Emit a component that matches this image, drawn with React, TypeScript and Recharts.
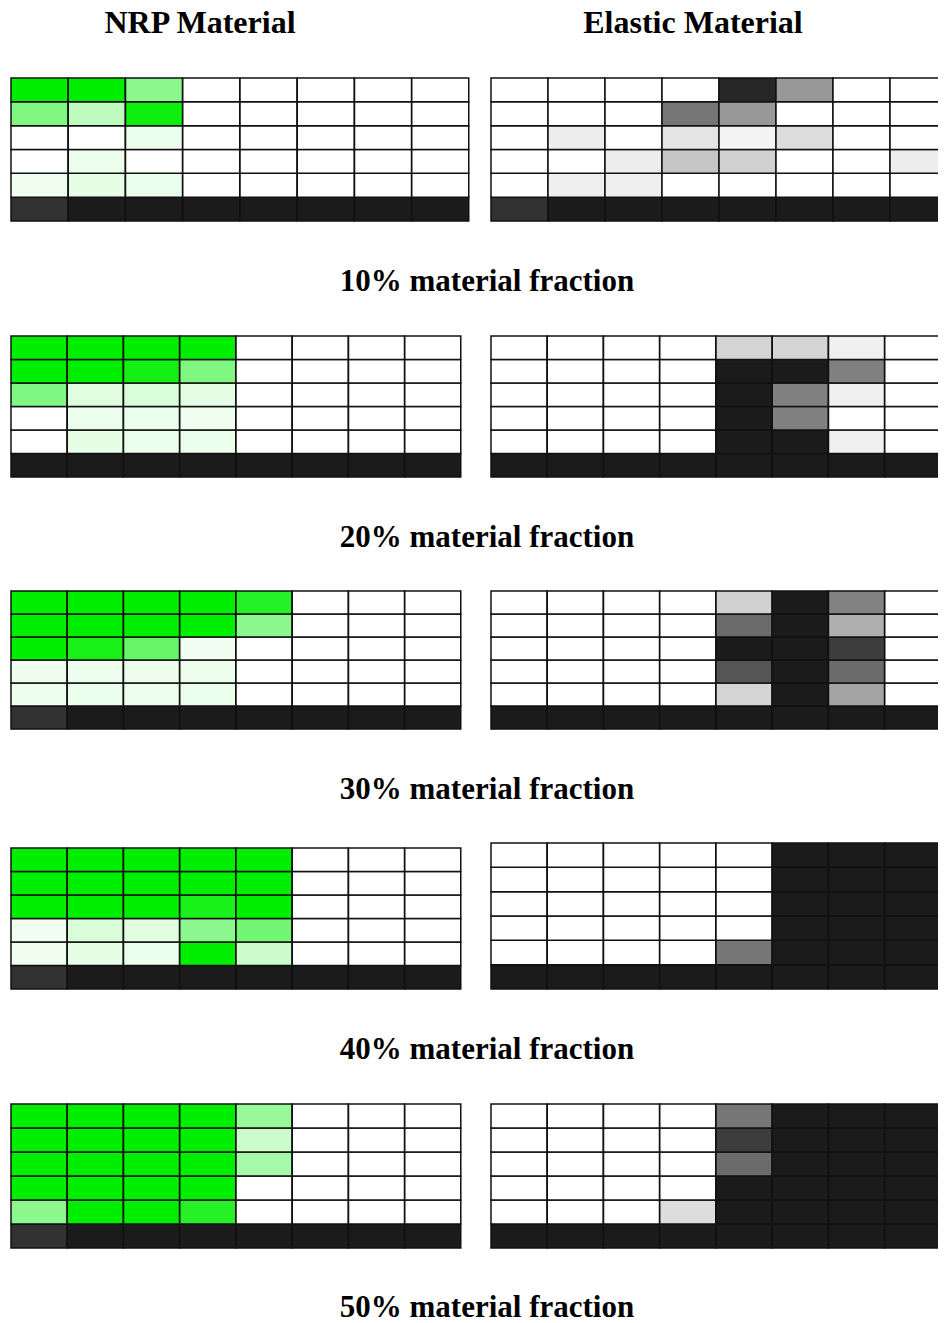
import React from "react";
import { BarChart, Bar, XAxis, YAxis, Cell } from "recharts";

// Column categories (8 elements across each design domain)
const COLUMNS = ["c1", "c2", "c3", "c4", "c5", "c6", "c7", "c8"];
// Row keys, top (r0) to bottom support row (r5)
const ROWS = ["r0", "r1", "r2", "r3", "r4", "r5"];

const COLUMN_TITLES = ["NRP Material", "Elastic Material"];
const FRACTION_LABELS = [
  "10% material fraction",
  "20% material fraction",
  "30% material fraction",
  "40% material fraction",
  "50% material fraction",
];

// Element densities (0 = void, 1 = full material), rows listed top to bottom.
const NRP_10 = [
  [1, 1, 0.45, 0, 0, 0, 0, 0],
  [0.5, 0.25, 0.95, 0, 0, 0, 0, 0],
  [0, 0, 0.08, 0, 0, 0, 0, 0],
  [0, 0.08, 0, 0, 0, 0, 0, 0],
  [0.06, 0.1, 0.08, 0, 0, 0, 0, 0],
  [0.9, 1, 1, 1, 1, 1, 1, 1],
];
const ELASTIC_10 = [
  [0, 0, 0, 0, 0.95, 0.45, 0, 0],
  [0, 0, 0, 0.6, 0.45, 0, 0, 0],
  [0, 0.08, 0, 0.12, 0.05, 0.15, 0, 0],
  [0, 0, 0.08, 0.25, 0.2, 0, 0, 0.08],
  [0, 0.07, 0.07, 0, 0, 0, 0, 0],
  [0.9, 1, 1, 1, 1, 1, 1, 1],
];
const NRP_20 = [
  [1, 1, 1, 1, 0, 0, 0, 0],
  [1, 1, 0.92, 0.5, 0, 0, 0, 0],
  [0.5, 0.12, 0.15, 0.1, 0, 0, 0, 0],
  [0, 0.08, 0.08, 0.06, 0, 0, 0, 0],
  [0, 0.1, 0.08, 0.08, 0, 0, 0, 0],
  [1, 1, 1, 1, 1, 1, 1, 1],
];
const ELASTIC_20 = [
  [0, 0, 0, 0, 0.19, 0.19, 0.066, 0],
  [0, 0, 0, 0, 1, 1, 0.557, 0],
  [0, 0, 0, 0, 1, 0.557, 0.066, 0],
  [0, 0, 0, 0, 1, 0.557, 0, 0],
  [0, 0, 0, 0, 1, 1, 0.066, 0],
  [1, 1, 1, 1, 1, 1, 1, 1],
];
const NRP_30 = [
  [1, 1, 1, 1, 0.85, 0, 0, 0],
  [1, 1, 1, 1, 0.45, 0, 0, 0],
  [1, 0.9, 0.6, 0.05, 0, 0, 0, 0],
  [0.07, 0.07, 0.07, 0.07, 0, 0, 0, 0],
  [0.07, 0.08, 0.07, 0.08, 0, 0, 0, 0],
  [0.9, 1, 1, 1, 1, 1, 1, 1],
];
const ELASTIC_30 = [
  [0, 0, 0, 0, 0.2, 1, 0.55, 0],
  [0, 0, 0, 0, 0.65, 1, 0.35, 0],
  [0, 0, 0, 0, 1, 1, 0.85, 0],
  [0, 0, 0, 0, 0.745, 1, 0.65, 0],
  [0, 0, 0, 0, 0.19, 1, 0.4, 0],
  [1, 1, 1, 1, 1, 1, 1, 1],
];
const NRP_40 = [
  [1, 1, 1, 1, 1, 0, 0, 0],
  [1, 1, 1, 1, 1, 0, 0, 0],
  [1, 1, 1, 0.9, 1, 0, 0, 0],
  [0.06, 0.15, 0.12, 0.45, 0.55, 0, 0, 0],
  [0.06, 0.1, 0.08, 1, 0.2, 0, 0, 0],
  [0.9, 1, 1, 1, 1, 1, 1, 1],
];
const ELASTIC_40 = [
  [0, 0, 0, 0, 0, 1, 1, 1],
  [0, 0, 0, 0, 0, 1, 1, 1],
  [0, 0, 0, 0, 0, 1, 1, 1],
  [0, 0, 0, 0, 0, 1, 1, 1],
  [0, 0, 0, 0, 0.6, 1, 1, 1],
  [1, 1, 1, 1, 1, 1, 1, 1],
];
const NRP_50 = [
  [1, 1, 1, 1, 0.4, 0, 0, 0],
  [1, 1, 1, 1, 0.2, 0, 0, 0],
  [1, 1, 1, 1, 0.35, 0, 0, 0],
  [1, 1, 1, 1, 0, 0, 0, 0],
  [0.45, 1, 1, 0.85, 0, 0, 0, 0],
  [0.9, 1, 1, 1, 1, 1, 1, 1],
];
const ELASTIC_50 = [
  [0, 0, 0, 0, 0.6, 1, 1, 1],
  [0, 0, 0, 0, 0.85, 1, 1, 1],
  [0, 0, 0, 0, 0.65, 1, 1, 1],
  [0, 0, 0, 0, 1, 1, 1, 1],
  [0, 0, 0, 0.15, 1, 1, 1, 1],
  [1, 1, 1, 1, 1, 1, 1, 1],
];

const NRP_GRIDS = [NRP_10, NRP_20, NRP_30, NRP_40, NRP_50];
const ELASTIC_GRIDS = [ELASTIC_10, ELASTIC_20, ELASTIC_30, ELASTIC_40, ELASTIC_50];

// Layout in page coordinates (container covers the whole page)
const PANELS = [
  { nrp: { x: 11, y: 78, w: 458, h: 143 }, el: { x: 491, y: 78, w: 456, h: 143 }, labelY: 291 },
  { nrp: { x: 11, y: 336, w: 450, h: 141 }, el: { x: 491, y: 336, w: 450, h: 141 }, labelY: 547 },
  { nrp: { x: 11, y: 591, w: 450, h: 138 }, el: { x: 491, y: 591, w: 450, h: 138 }, labelY: 799 },
  { nrp: { x: 11, y: 848, w: 450, h: 141 }, el: { x: 491, y: 843, w: 450, h: 146 }, labelY: 1059 },
  { nrp: { x: 11, y: 1104, w: 450, h: 144 }, el: { x: 491, y: 1104, w: 450, h: 144 }, labelY: 1317 },
];

const mix = (d: number, r: number, g: number, b: number) => {
  const c = (t: number) => Math.round(255 + (t - 255) * d);
  return `rgb(${c(r)},${c(g)},${c(b)})`;
};
const green = (d: number) => mix(d, 0, 238, 0);
const gray = (d: number) => mix(d, 27, 27, 27);

function Grid({ grid, kind, box }: { grid: number[][]; kind: string; box: { x: number; y: number; w: number; h: number } }) {
  const data = COLUMNS.map((col) => {
    const row: Record<string, any> = { col };
    ROWS.forEach((r) => (row[r] = 1));
    return row;
  });
  const pad = 1;
  const stackOrder = [5, 4, 3, 2, 1, 0];
  return (
    <div style={{ position: "absolute", left: box.x - pad, top: box.y - pad }}>
      <BarChart
        width={box.w + 2 * pad}
        height={box.h + 2 * pad}
        data={data}
        margin={{ top: pad, right: pad, bottom: pad, left: pad }}
        barCategoryGap={0}
        barGap={0}
      >
        <XAxis dataKey="col" hide padding={{ left: 0, right: 0 }} />
        <YAxis type="number" domain={[0, 6]} hide />
        {stackOrder.map((k) => (
          <Bar
            key={k}
            dataKey={ROWS[k]}
            stackId="g"
            isAnimationActive={false}
            stroke="#111"
            strokeWidth={1.5}
          >
            {COLUMNS.map((c, j) => {
              const d = grid[k][j];
              const fill = k === 5 || kind === "elastic" ? gray(d) : green(d);
              return <Cell key={c} fill={fill} />;
            })}
          </Bar>
        ))}
      </BarChart>
    </div>
  );
}

export default function App() {
  return (
    <div
      style={{
        position: "relative",
        width: 946,
        height: 1323,
        margin: "-8px 0 0 -8px",
        overflow: "hidden",
        background: "#fff",
      }}
    >
      {PANELS.map((p, i) => (
        <React.Fragment key={i}>
          <Grid grid={NRP_GRIDS[i]} kind="nrp" box={p.nrp} />
          <Grid grid={ELASTIC_GRIDS[i]} kind="elastic" box={p.el} />
        </React.Fragment>
      ))}
      <svg
        width={946}
        height={1323}
        style={{ position: "absolute", left: 0, top: 0, pointerEvents: "none" }}
      >
        <text x={200} y={33} textAnchor="middle" fontFamily="'Liberation Serif', serif" fontWeight="bold" fontSize={32}>
          {COLUMN_TITLES[0]}
        </text>
        <text x={693} y={33} textAnchor="middle" fontFamily="'Liberation Serif', serif" fontWeight="bold" fontSize={32}>
          {COLUMN_TITLES[1]}
        </text>
        {PANELS.map((p, i) => (
          <text
            key={i}
            x={487}
            y={p.labelY}
            textAnchor="middle"
            fontFamily="'Liberation Serif', serif"
            fontWeight="bold"
            fontSize={31}
          >
            {FRACTION_LABELS[i]}
          </text>
        ))}
      </svg>
    </div>
  );
}
